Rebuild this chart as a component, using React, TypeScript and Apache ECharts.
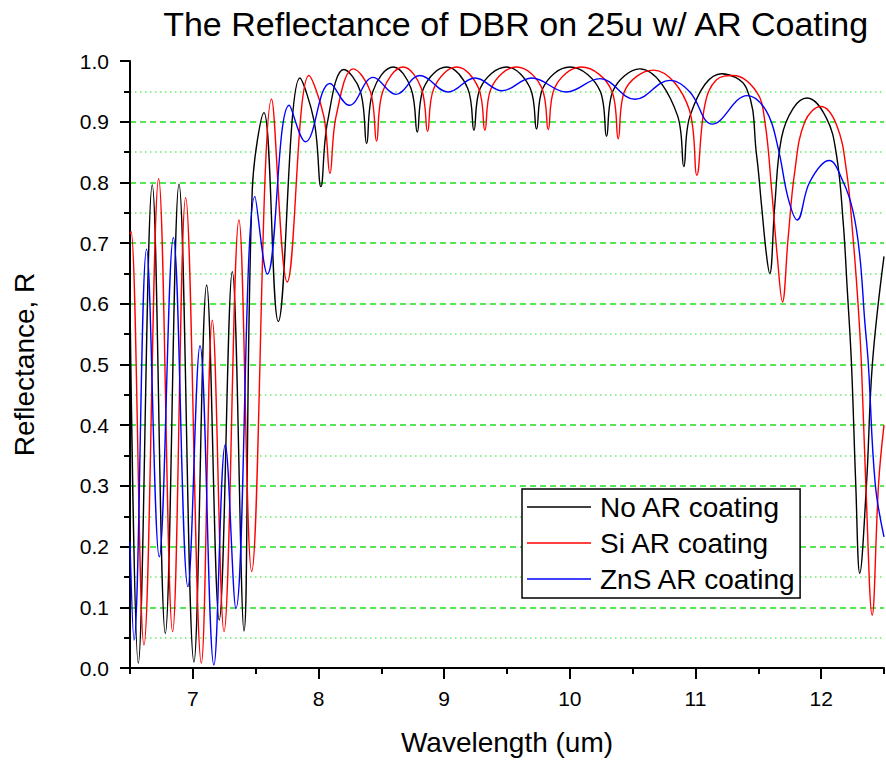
import React, { useEffect, useRef } from 'react';
import * as echarts from 'echarts';

const xTicks = [7, 8, 9, 10, 11, 12];
const seriesNames = ['No AR coating', 'Si AR coating', 'ZnS AR coating'];

const noArWl = [6.5, 6.566, 6.677, 6.781, 6.89, 7.009, 7.11, 7.21, 7.314, 7.407, 7.473, 7.566, 7.68, 7.852, 7.966, 8.019, 8.072, 8.202, 8.333, 8.383, 8.433, 8.595, 8.736, 8.786, 8.836, 9.019, 9.187, 9.237, 9.287, 9.497, 9.685, 9.735, 9.785, 10.0, 10.242, 10.292, 10.342, 10.557, 10.857, 10.907, 10.957, 11.207, 11.406, 11.486, 11.525, 11.565, 11.591, 11.631, 11.684, 11.777, 11.888, 12.042, 12.122, 12.175, 12.207, 12.241, 12.275, 12.307, 12.361, 12.408, 12.5];
const noArR = [0.60, 0.008, 0.796, 0.057, 0.797, 0.010, 0.631, 0.079, 0.653, 0.061, 0.788, 0.915, 0.571, 0.972, 0.90, 0.793, 0.90, 0.986, 0.95, 0.864, 0.95, 0.990, 0.955, 0.883, 0.955, 0.990, 0.955, 0.886, 0.955, 0.990, 0.955, 0.888, 0.955, 0.990, 0.95, 0.876, 0.95, 0.987, 0.91, 0.826, 0.91, 0.979, 0.955, 0.845, 0.763, 0.680, 0.650, 0.763, 0.873, 0.922, 0.939, 0.906, 0.845, 0.735, 0.626, 0.502, 0.304, 0.156, 0.304, 0.502, 0.678];

const siWl = [6.5, 6.508, 6.611, 6.728, 6.839, 6.943, 7.068, 7.155, 7.248, 7.367, 7.468, 7.627, 7.751, 7.924, 8.041, 8.091, 8.141, 8.277, 8.412, 8.462, 8.512, 8.674, 8.818, 8.868, 8.918, 9.1, 9.274, 9.324, 9.374, 9.576, 9.778, 9.828, 9.878, 10.09, 10.335, 10.385, 10.435, 10.663, 10.95, 11.01, 11.074, 11.167, 11.3, 11.486, 11.552, 11.605, 11.65, 11.692, 11.737, 11.79, 11.87, 11.997, 12.122, 12.202, 12.254, 12.294, 12.32, 12.355, 12.406, 12.457, 12.5];
const siR = [0.715, 0.719, 0.038, 0.806, 0.060, 0.775, 0.008, 0.573, 0.060, 0.738, 0.159, 0.937, 0.636, 0.976, 0.91, 0.815, 0.91, 0.987, 0.95, 0.868, 0.95, 0.990, 0.955, 0.884, 0.955, 0.990, 0.955, 0.886, 0.955, 0.990, 0.955, 0.887, 0.955, 0.990, 0.95, 0.872, 0.95, 0.985, 0.92, 0.812, 0.927, 0.969, 0.976, 0.949, 0.900, 0.790, 0.680, 0.603, 0.708, 0.818, 0.900, 0.925, 0.895, 0.818, 0.708, 0.598, 0.502, 0.304, 0.087, 0.304, 0.40];

const znsWl = [6.5, 6.532, 6.632, 6.733, 6.845, 6.961, 7.057, 7.168, 7.258, 7.343, 7.494, 7.593, 7.767, 7.897, 8.091, 8.245, 8.435, 8.616, 8.807, 9.032, 9.245, 9.462, 9.696, 9.974, 10.239, 10.518, 10.796, 10.955, 11.133, 11.411, 11.565, 11.658, 11.737, 11.809, 11.91, 12.064, 12.175, 12.254, 12.307, 12.347, 12.375, 12.43, 12.5];
const znsR = [0.208, 0.046, 0.690, 0.183, 0.709, 0.134, 0.531, 0.005, 0.368, 0.098, 0.777, 0.649, 0.927, 0.867, 0.963, 0.927, 0.973, 0.945, 0.976, 0.949, 0.972, 0.951, 0.972, 0.949, 0.971, 0.937, 0.968, 0.949, 0.896, 0.943, 0.917, 0.856, 0.774, 0.738, 0.801, 0.836, 0.801, 0.752, 0.680, 0.571, 0.502, 0.304, 0.216];

const seriesColors = ['#000000', '#ff0000', '#0000ff'];

const zip = (w: number[], r: number[]) => w.map((x, i) => [x, r[i]]);

export default function App() {
  const ref = useRef<HTMLDivElement>(null);
  useEffect(() => {
    const chart = echarts.init(ref.current!, null, { renderer: 'svg' });
    const font = 'Arial';
    const data = [zip(noArWl, noArR), zip(siWl, siR), zip(znsWl, znsR)];
    chart.setOption({
      animation: false,
      backgroundColor: '#ffffff',
      title: {
        text: 'The Reflectance of DBR on 25u w/ AR Coating',
        right: 16,
        top: 7,
        padding: 0,
        textStyle: { fontFamily: font, fontSize: 34, fontWeight: 'normal', color: '#000' },
      },
      grid: { left: 130, right: 2, top: 61, bottom: 93, containLabel: false },
      legend: {
        left: 522,
        top: 489,
        orient: 'vertical',
        padding: [1, 4, 2, 5],
        itemGap: 2,
        itemWidth: 64,
        itemHeight: 1.5,
        icon: 'rect',
        borderColor: '#000',
        borderWidth: 1.5,
        backgroundColor: '#fff',
        textStyle: { fontSize: 28, fontFamily: font, color: '#000', lineHeight: 34, padding: [0, 0, 0, 4] },
        data: seriesNames,
      },
      xAxis: [
        {
          type: 'value',
          min: 6.5,
          max: 12.5,
          interval: 0.5,
          name: 'Wavelength (um)',
          nameLocation: 'middle',
          nameGap: 60,
          nameTextStyle: { fontFamily: font, fontSize: 28, color: '#000' },
          axisLine: { show: true, onZero: false, lineStyle: { color: '#000', width: 2 } },
          axisTick: { show: true, length: 6, lineStyle: { color: '#000', width: 2 } },
          axisLabel: { customValues: xTicks, fontFamily: font, fontSize: 21, color: '#000', margin: 20 },
          splitLine: { show: false },
        },
        {
          type: 'value',
          min: 6.5,
          max: 12.5,
          position: 'bottom',
          axisLine: { show: false, onZero: false },
          axisTick: { show: true, customValues: xTicks, length: 11, lineStyle: { color: '#000', width: 2 } },
          axisLabel: { show: false },
          splitLine: { show: false },
        },
      ],
      yAxis: {
        type: 'value',
        min: 0,
        max: 1,
        interval: 0.1,
        name: 'Reflectance, R',
        nameLocation: 'middle',
        nameGap: 92,
        nameTextStyle: { fontFamily: font, fontSize: 28, color: '#000' },
        axisLine: { show: true, onZero: false, lineStyle: { color: '#000', width: 2 } },
        axisTick: { show: true, length: 10, lineStyle: { color: '#000', width: 2 } },
        minorTick: { show: true, splitNumber: 2, length: 6, lineStyle: { color: '#000', width: 2 } },
        axisLabel: {
          fontFamily: font,
          fontSize: 21,
          color: '#000',
          margin: 21,
          formatter: (v: number) => v.toFixed(1),
        },
        splitLine: { show: true, showMaxLine: false, lineStyle: { color: '#22dd22', type: [6, 4], width: 1.5 } },
        minorSplitLine: { show: true, lineStyle: { color: '#66ee66', type: [1.5, 3.5], width: 1.5 } },
      },
      series: seriesNames.map((name, i) => ({
        name,
        type: 'line',
        data: data[i],
        symbol: 'none',
        smooth: 0.4,
        lineStyle: { color: seriesColors[i], width: 1.4 },
        itemStyle: { color: seriesColors[i] },
        clip: true,
      })),
    });
    return () => chart.dispose();
  }, []);
  return <div ref={ref} style={{ position: 'fixed', left: 0, top: 0, width: 886, height: 761 }} />;
}
